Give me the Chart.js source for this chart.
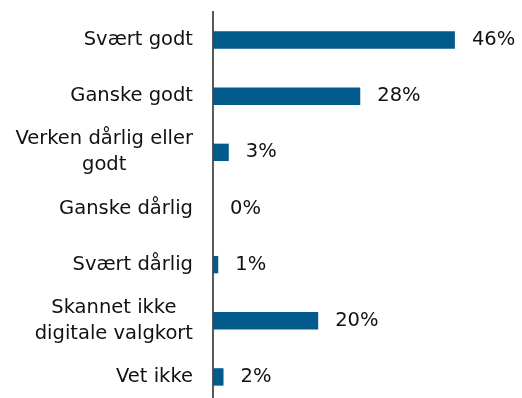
<!DOCTYPE html>
<html lang="no">
<head>
<meta charset="UTF-8">
<title>Digitale valgkort</title>
<script src="https://cdn.jsdelivr.net/npm/chart.js"></script>
<style>
    html, body { margin: 0; padding: 0; background: #fff; overflow: hidden; }
    #boks { position: relative; width: 522px; height: 405px; }
</style>
</head>
<body>
<div id="boks">
    <canvas id="grafVurdering"></canvas>
</div>

<script>
    // svaralternativer og andel (%)
    const kategorier = [
        ['Svært godt'],
        ['Ganske godt'],
        ['Verken dårlig eller', 'godt'],
        ['Ganske dårlig'],
        ['Svært dårlig'],
        ['Skannet ikke', 'digitale valgkort'],
        ['Vet ikke']
    ];
    const andeler = [46, 28, 3, 0, 1, 20, 2];
    const xMaks = 58;

    const skrift = '"DejaVu Sans", sans-serif';

    // tegner kategorinavn og prosentetiketter selv
    const etiketter = {
        id: 'etiketter',
        afterDatasetsDraw(chart) {
            const ctx = chart.ctx;
            const yAkse = chart.scales.y;
            const meta = chart.getDatasetMeta(0);
            ctx.save();
            ctx.fillStyle = '#111';
            ctx.font = '19.5px ' + skrift;
            ctx.textBaseline = 'middle';

            kategorier.forEach((linjer, i) => {
                const yMidt = yAkse.getPixelForValue(i);
                const bredder = linjer.map(l => ctx.measureText(l).width);
                const maks = Math.max(...bredder);
                const hoyre = 193;
                const lh = 26;
                const start = yMidt - (linjer.length - 1) * lh / 2;
                ctx.textAlign = 'center';
                linjer.forEach((l, j) => {
                    ctx.fillText(l, hoyre - maks / 2, start + j * lh);
                });
            });

            ctx.textAlign = 'left';
            meta.data.forEach((bar, i) => {
                ctx.fillText(andeler[i] + '%', bar.x + 17, bar.y);
            });
            ctx.restore();
        }
    };

    new Chart(document.getElementById('grafVurdering'), {
        type: 'bar',
        data: {
            labels: kategorier,
            datasets: [{
                data: andeler,
                backgroundColor: '#035a8d',
                barPercentage: 0.31,
                categoryPercentage: 1
            }]
        },
        options: {
            indexAxis: 'y',
            responsive: true,
            maintainAspectRatio: false,
            animation: false,
            layout: { padding: { left: 213, top: 12, right: 4, bottom: 0 } },
            plugins: {
                legend: { display: false },
                tooltip: { enabled: false }
            },
            scales: {
                x: { display: false, min: 0, max: xMaks },
                y: {
                    ticks: { display: false },
                    grid: { display: false, drawTicks: false },
                    border: { display: true, color: '#5a5a5a', width: 2 }
                }
            }
        },
        plugins: [etiketter]
    });
</script>
</body>
</html>
